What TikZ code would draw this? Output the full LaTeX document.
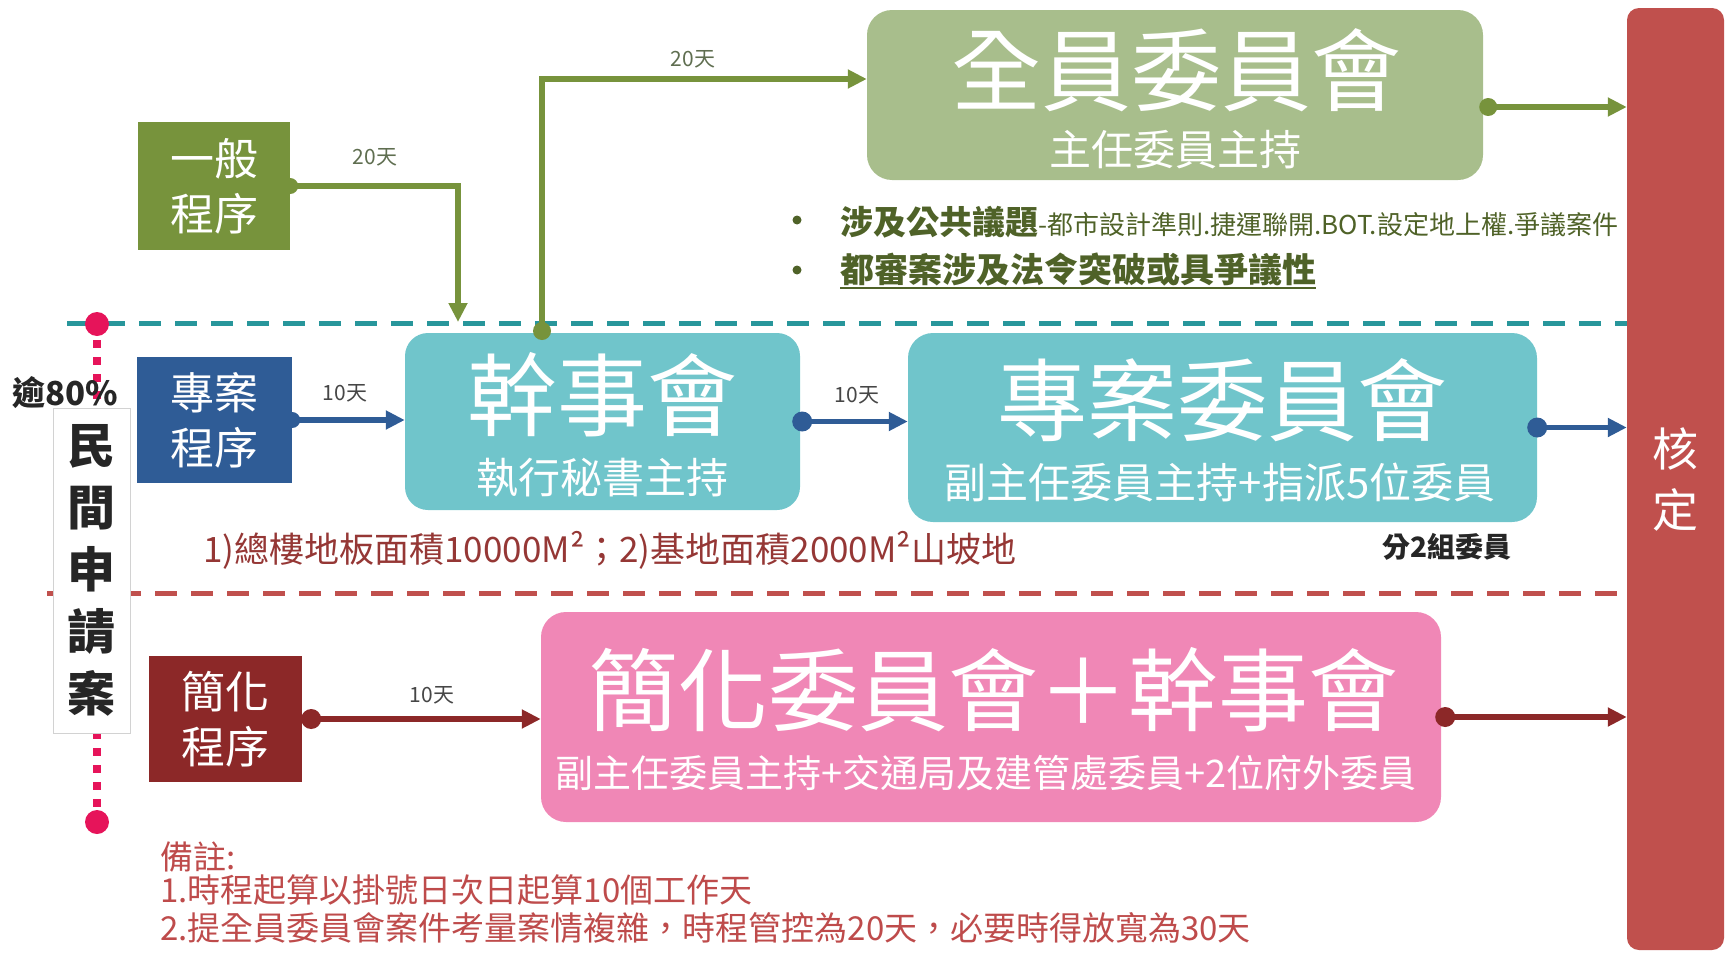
\documentclass[tikz,border=0pt]{standalone}
\usepackage{fontspec}
\setmainfont{Noto Sans CJK TC}
\usetikzlibrary{arrows.meta,backgrounds}
\definecolor{cQY}{RGB}{168,190,140}
\definecolor{cGreen}{RGB}{119,147,60}
\definecolor{cTeal}{RGB}{112,197,203}
\definecolor{cTealLine}{RGB}{40,150,155}
\definecolor{cBlue}{RGB}{47,92,150}
\definecolor{cDRed}{RGB}{140,40,40}
\definecolor{cPinkBox}{RGB}{240,135,182}
\definecolor{cRed}{RGB}{192,80,77}
\definecolor{cPink}{RGB}{230,20,90}
\definecolor{cOlive}{RGB}{79,98,40}
\definecolor{cTxtRed}{RGB}{149,55,53}
\definecolor{cNote}{RGB}{190,75,75}
\definecolor{cLbl}{RGB}{70,70,70}
\definecolor{cLblG}{RGB}{95,110,80}
\newcommand\fsz[1]{\fontsize{#1}{#1}\selectfont}
\begin{document}
\begin{tikzpicture}[x=1pt,y=-1pt,
  bigbox/.style={rounded corners=25pt, inner sep=0pt},
  procbox/.style={inner sep=0pt, text=white, align=center, minimum width=154pt, minimum height=126pt, font=\fontsize{44}{55}\selectfont},
  title/.style={text=white, inner sep=0pt, font=\fsz{90}},
  subtitle/.style={text=white, inner sep=0pt, font=\fsz{42}},
  lbl/.style={inner sep=0pt, font=\fsz{21}},
  conn/.style={line width=5.5pt, -{Triangle[length=19pt,width=18pt]}},
  sepline/.style={line width=5pt, dash pattern=on 22pt off 14pt},
  note/.style={anchor=west, inner sep=0pt, text=cNote, font=\fsz{33}}
]
\useasboundingbox (0,0) rectangle (1726,953);

% separator lines
\draw[sepline, cTealLine] (67,323) -- (1627,323);
\draw[sepline, cRed] (47,593) -- (1627,593);

% pink dotted line with end dots
\draw[cPink, line width=8pt, dash pattern=on 8pt off 9pt] (97,340) -- (97,812);
\fill[cPink] (97,324) circle[radius=12pt];
\fill[cPink] (97,822) circle[radius=12pt];

% approval bar
\node[fill=cRed, rounded corners=12pt, inner sep=0pt, minimum width=97pt, minimum height=942pt,
      text=white, align=center, font=\fontsize{46}{61}\selectfont] (hd) at (1675.5,479) {核\\定};

% full committee
\node[bigbox, fill=cQY, minimum width=616pt, minimum height=170pt] (qy) at (1175,95) {};
\node[title] (qyt) at (1176,70) {全員委員會};
\node[subtitle] (qys) at (1175,150) {主任委員主持};

% staff meeting
\node[bigbox, fill=cTeal, rounded corners=23pt, minimum width=395pt, minimum height=177pt] (gsh) at (602.5,421.5) {};
\node[title] (gsht) at (602,395) {幹事會};
\node[subtitle] (gshs) at (602,478) {執行秘書主持};

% special committee
\node[bigbox, fill=cTeal, minimum width=629pt, minimum height=189pt] (zaw) at (1222.5,427.5) {};
\node[title] (zawt) at (1222,400) {專案委員會};
\node[subtitle] (zaws) at (1220,482) {副主任委員主持+指派5位委員};

% simplified committee
\node[bigbox, fill=cPinkBox, minimum width=900pt, minimum height=210pt] (jhw) at (991,717) {};
\node[title] (jhwt) at (993,690) {簡化委員會＋幹事會};
\node[subtitle, font=\fsz{38}] (jhws) at (986,773) {副主任委員主持+交通局及建管處委員+2位府外委員};

% procedure boxes
\node[procbox, fill=cGreen, minimum width=152pt, minimum height=128pt] (yb) at (214,186) {一般\\程序};
\node[procbox, fill=cBlue, minimum width=155pt] (za) at (214.5,420) {專案\\程序};
\node[procbox, fill=cDRed, minimum width=153pt] (jh) at (225.5,719) {簡化\\程序};

% hidden start dots
\begin{scope}[on background layer]
  \fill[cGreen] (yb.east) circle[radius=8pt];
  \fill[cBlue] (za.east) circle[radius=8pt];
\end{scope}

% green connectors
\coordinate (ginto) at (458,322);
\draw[conn, cGreen] (yb.east) -| (ginto);
\coordinate (gout) at (542,331);
\draw[conn, cGreen] (gout) |- ([yshift=16pt]qy.west);
\fill[cGreen] (gout) circle[radius=9pt];
\draw[conn, cGreen] ([yshift=-12pt]qy.east) -- ([yshift=-12pt]qy.east -| hd.west);
\fill[cGreen] ([xshift=5pt,yshift=-12pt]qy.east) circle[radius=9pt];

% blue connectors
\draw[conn, cBlue] (za.east) -- (za.east -| gsh.west);
\draw[conn, cBlue] (gsh.east) -- (gsh.east -| zaw.west);
\fill[cBlue] ([xshift=2pt]gsh.east) circle[radius=10pt];
\draw[conn, cBlue] (zaw.east) -- (zaw.east -| hd.west);
\fill[cBlue] (zaw.east) circle[radius=10pt];

% dark red connectors
\draw[conn, cDRed] (jh.east) -- (jh.east -| jhw.west);
\fill[cDRed] ([xshift=9pt]jh.east) circle[radius=10pt];
\draw[conn, cDRed] (jhw.east) -- (jhw.east -| hd.west);
\fill[cDRed] ([xshift=4pt]jhw.east) circle[radius=10pt];

% day labels
\node[lbl, text=cLblG] (l20a) at (375,157) {20天};
\node[lbl, text=cLblG] (l20b) at (693,59) {20天};
\node[lbl, text=cLbl] (l10a) at (345,393) {10天};
\node[lbl, text=cLbl] (l10b) at (857,395) {10天};
\node[lbl, text=cLbl] (l10c) at (432,695) {10天};

% bullets
\coordinate (b1) at (797,220);
\fill[cOlive] (b1) circle[radius=4.5pt];
\node[anchor=west, inner sep=0pt, text=cOlive] (t1) at (840,222)
  {{\fsz{33}\bfseries 涉及公共議題}{\fsz{26}-都市設計準則.捷運聯開.BOT.設定地上權.爭議案件}};
\coordinate (b2) at (797,270);
\fill[cOlive] (b2) circle[radius=4.5pt];
\node[anchor=west, inner sep=0pt, text=cOlive, font=\fsz{34}\bfseries] (t2) at (840,270) {都審案涉及法令突破或具爭議性};
\draw[cOlive, line width=2.5pt] ([yshift=-1pt]t2.south west) -- ([yshift=-1pt]t2.south east);

% left side
\node[anchor=west, inner sep=0pt, font=\fsz{33}\bfseries, text=black!85] (p80) at (12,393) {逾80\%};
\node[draw=gray!35, fill=white, line width=1pt, inner sep=0pt, minimum width=77pt, minimum height=325pt,
      align=center, text=black!85, font=\fontsize{48}{62}\selectfont\bfseries] (mj) at (91.5,570.5) {民\\間\\申\\請\\案};

% conditions
\node[anchor=west, inner sep=0pt, text=cTxtRed, font=\fsz{35}] (cond) at (203,550) {1)總樓地板面積10000M²；2)基地面積2000M²山坡地};
\node[inner sep=0pt, font=\fsz{28}\bfseries, text=black!85] (fz) at (1447,547) {分2組委員};

% notes
\node[note] (n0) at (160,857) {備註:};
\node[note] (n1) at (160,890) {1.時程起算以掛號日次日起算10個工作天};
\node[note] (n2) at (160,928) {2.提全員委員會案件考量案情複雜，時程管控為20天，必要時得放寬為30天};
\end{tikzpicture}
\end{document}
